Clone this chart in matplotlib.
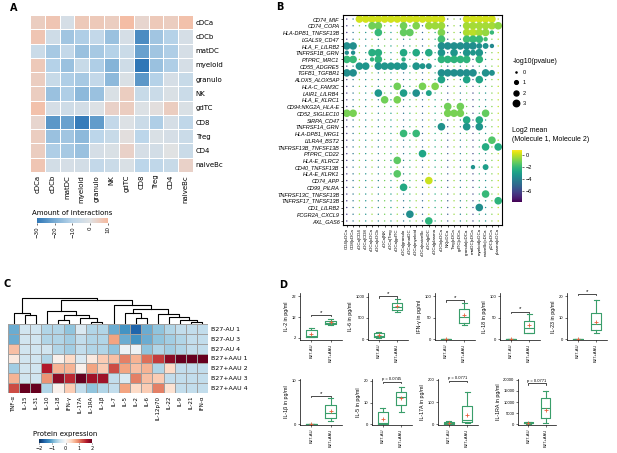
import numpy as np
import matplotlib
matplotlib.use('Agg')
import matplotlib.pyplot as plt
from matplotlib.colors import LinearSegmentedColormap

FIG_W = 617
FIG_H = 453
GREEN = '#3a9e6b'
SANS = 'Liberation Sans'

# ---------------- panel A: interaction counts ----------------
A_CELLS = ['cDCa', 'cDCb', 'matDC', 'myeloid', 'granulo', 'NK', 'gdTC',
           'CD8', 'Treg', 'CD4', 'naiveBc']
A_INTERACTIONS = [
    [5, 7, -3, 6, 6, 5, 9, 3, 6, 5, 8],
    [7, -5, -14, -12, -8, -15, -3, -26, -14, -11, -3],
    [-6, -13, -8, -15, -13, -11, -6, -22, -14, -12, -3],
    [6, -11, -15, -7, -12, -18, -5, -30, -15, -12, -3],
    [5, -7, -12, -13, -8, -17, -2, -24, -11, -3, -7],
    [5, -15, -12, -17, -15, -2, 5, -7, -6, -2, -6],
    [8, -3, -5, -4, -1, 4, 5, -1, 1, 5, -2],
    [3, -24, -22, -29, -23, -8, -1, -6, -12, -3, -9],
    [5, -15, -14, -17, -10, -7, 1, -10, -2, -3, -6],
    [5, -12, -13, -15, -3, -2, 4, -3, -4, 0, -6],
    [7, -4, -3, -4, -8, -6, -2, -10, -9, -7, 4],
]
A_TICKS = [-30, -20, -10, 0, 10]

# ---------------- panel B: ligand-receptor dot plot ----------------
B_PAIRS = ['CD74_MIF', 'CD74_COPA', 'HLA-DPB1_TNFSF13B', 'LGALS9_CD47',
           'HLA_F_LILRB2', 'TNFRSF1B_GRN', 'PTPRC_MRC1', 'CD55_ADGRE5',
           'TGFB1_TGFBR1', 'ALOX5_ALOX5AP', 'HLA-C_FAM3C', 'LAIR1_LILRB4',
           'HLA_E_KLRC1', 'CD94:NKG2A_HLA-E', 'CD52_SIGLEC10', 'SIRPA_CD47',
           'TNFRSF1A_GRN', 'HLA-DPB1_NRG1', 'LILRA4_BST2',
           'TNFRSF13B_TNFSF13B', 'PTPRC_CD22', 'HLA-E_KLRC2',
           'CD40_TNFSF13B', 'HLA-E_KLRK1', 'CD74_APP', 'CD99_PILRA',
           'TNFRSF13C_TNFSF13B', 'TNFRSF17_TNFSF13B', 'CD1_LILRB2',
           'FCGR2A_CXCL9', 'AXL_GAS6']
B_COLUMNS = ['CD4|cDCa', 'CD8|cDCa', 'cDCa|CD4', 'cDCa|CD8', 'cDCa|cDCa',
             'cDCa|cDCb', 'cDCa|NK', 'cDCa|Treg', 'cDCa|gdTC', 'cDCa|granulo',
             'cDCa|matDC', 'cDCa|myeloid', 'cDCa|naiveBc', 'cDCa|pDC',
             'cDCa|plasma', 'cDCb|cDCa', 'NK|cDCa', 'Treg|cDCa', 'gdTC|cDCa',
             'granulo|cDCa', 'matDC|cDCa', 'myeloid|cDCa', 'naiveBc|cDCa',
             'pDC|cDCa', 'plasma|cDCa']
# mean of the non significant pairs, per column
B_BG_MEAN = [-6.5, -4.5, -0.5, -3.5, -0.5, -4.0, -1.0, -3.0, -0.5, -4.5, -2.0,
             -0.5, -5.0, 0.0, -2.5, -1.0, -5.5, -0.5, -4.0, -1.0, -6.0, -2.0,
             -3.5, -0.8, 0.0]
# significant pairs per row: (column, -log10 p level, log2 mean)
B_SIGNIFICANT = [
    [(c, 3, 0.3) for c in list(range(2, 16)) + list(range(19, 24))],
    [(4, 3, -1.0), (5, 3, -1.0), (9, 3, -1.0), (11, 3, -0.8), (13, 3, -0.4),
     (14, 3, -0.4), (15, 3, -0.4), (19, 3, -0.3), (20, 3, -0.3), (21, 3, -0.3),
     (22, 3, -0.3), (23, 3, -0.3), (24, 3, -0.6)],
    [(5, 3, -2.0), (9, 3, -1.2), (10, 3, -1.2), (15, 3, -0.8), (19, 3, -0.2),
     (20, 3, 0.0), (21, 3, -0.3), (22, 3, -0.5), (23, 1, -2.0)],
    [(15, 3, -1.8), (19, 3, -1.8), (20, 3, -2.0), (21, 3, -2.0), (22, 1, -1.8)],
    [(0, 3, -3.6), (1, 3, -3.6), (15, 3, -3.6), (16, 3, -3.6), (17, 3, -3.6),
     (18, 3, -3.6), (19, 3, -3.6), (20, 3, -3.6), (21, 2, -3.6), (22, 2, -3.4),
     (23, 1, -3.8)],
    [(0, 1, -3.6), (1, 1, -3.6), (4, 3, -2.4), (5, 3, -2.4), (9, 3, -2.6),
     (11, 3, -2.6), (13, 3, -2.6), (15, 3, -3.3), (17, 3, -3.3), (19, 3, -3.3),
     (20, 2, -3.3), (21, 3, -3.3)],
    [(0, 3, -2.0), (1, 3, -2.0), (4, 1, -2.2), (5, 3, -2.2), (9, 1, -2.4),
     (15, 3, -2.2), (16, 3, -2.2), (17, 3, -2.2), (18, 3, -2.2), (19, 3, -2.2),
     (21, 3, -2.2)],
    [(2, 3, -3.3), (3, 3, -3.3), (5, 3, -3.3), (6, 3, -3.3), (7, 3, -3.3),
     (8, 3, -3.3), (9, 3, -3.3), (11, 3, -3.3), (12, 2, -3.3), (13, 2, -3.5)],
    [(0, 3, -3.6), (1, 3, -3.6), (15, 3, -3.6), (16, 3, -3.6), (17, 3, -3.6),
     (18, 3, -3.6), (19, 3, -3.6), (20, 3, -3.6), (22, 3, -3.5), (23, 2, -3.5)],
    [(15, 3, -2.8), (19, 3, -2.8), (21, 3, -2.8)],
    [(8, 3, -1.0), (12, 3, -0.9), (14, 3, -0.8)],
    [(5, 3, -3.2), (9, 3, -3.0), (11, 3, -3.5), (13, 2, -2.8)],
    [(6, 3, -1.0), (8, 3, -0.9)],
    [(16, 3, -1.0), (18, 3, -1.0)],
    [(0, 3, -0.9), (1, 3, -0.9), (16, 3, -0.9), (17, 3, -0.9), (18, 3, -0.9),
     (22, 3, -1.2)],
    [(19, 3, -2.6), (21, 3, -2.6)],
    [(15, 3, -3.5), (19, 3, -3.3), (21, 3, -3.3)],
    [(9, 3, -2.0), (11, 3, -2.0)],
    [(23, 3, -1.5)],
    [(22, 3, -2.5), (24, 3, -2.5)],
    [(12, 3, -2.7)],
    [(8, 3, -1.3)],
    [(20, 1, -3.4), (22, 2, -3.0)],
    [(8, 3, -1.4)],
    [(13, 3, 0.2)],
    [(9, 3, -2.6)],
    [(22, 3, -2.0)],
    [(24, 3, -2.2)],
    [(21, 3, -3.6)],
    [(10, 3, -3.6)],
    [(13, 3, -2.2)],
]
B_LEVELS = [0, 1, 2, 3]
B_CBAR_TICKS = [0, -2, -4, -6]

# ---------------- panel C: cytokine heatmap ----------------
C_CYTOKINES = ['TNF-α', 'IL-15', 'IL-31', 'IL-10', 'IL-18', 'IFN-γ', 'IL-17A',
               'IL-1RA', 'IL-1β', 'IL-7', 'IL-5', 'IL-2', 'IL-6', 'IL-12p70',
               'IL-22', 'IL-9', 'IL-21', 'IFN-α']
C_SAMPLES = ['B27-AU 1', 'B27-AU 3', 'B27-AU 4', 'B27+AAU 1', 'B27+AAU 2',
             'B27+AAU 3', 'B27+AAU 4']
C_EXPRESSION = [
    [-1.0, -0.4, -0.4, -0.6, -0.6, -0.8, -0.3, -0.6, -0.6, -1.0, -1.2, -1.6, -1.0, -0.8, -0.6, -0.5, -0.5, -0.5],
    [-1.0, -0.4, -0.4, -0.6, -0.6, -0.7, -0.5, -0.6, -0.6, 0.8, -1.0, -1.2, -1.0, -0.8, -0.7, -0.6, -0.5, -0.5],
    [0.6, -0.4, -0.4, -0.4, -0.6, -0.7, -0.5, -0.6, -0.6, -0.8, -0.1, -0.1, -0.8, -0.6, -0.7, -0.6, -0.5, -0.5],
    [0.2, -0.4, -0.4, -0.6, 0.1, 0.4, -0.3, 0.2, 0.5, 0.6, 1.0, 0.7, 1.1, 1.4, 1.8, 2.0, 2.0, 2.0],
    [-0.7, -0.4, -0.4, 1.6, 0.7, 0.7, 0.1, 0.8, 0.5, 1.3, 0.8, 0.6, 0.7, -0.6, 0.4, -0.5, -0.5, -0.5],
    [0.7, -0.4, -0.4, 0.9, 1.8, 1.5, 2.0, 1.7, 1.7, -0.5, -0.3, 1.0, 0.6, 0.5, -0.5, -0.5, -0.5, -0.5],
    [1.3, 2.0, 2.0, -0.6, 0.1, 0.5, -0.5, -0.8, -0.6, -0.5, 0.8, 0.4, 0.5, 1.0, 0.3, -0.5, -0.5, -0.5],
]
# column clustering: (left, right, height)
C_TREE = (
    ('TNF-α', ('IL-15', 'IL-31', 0.33), 0.40),
    (('IL-10', (('IL-18', 'IFN-γ', 0.16),
                ('IL-17A', ('IL-1RA', 'IL-1β', 0.07), 0.24), 0.33), 0.50),
     ('IL-7', (('IL-5', ('IL-2', 'IL-6', 0.24), 0.40),
               ('IL-12p70', ('IL-22', ('IL-9', ('IL-21', 'IFN-α', 0.08), 0.16),
                             0.26), 0.36), 0.57), 0.73), 0.90),
    1.0)

# ---------------- panel D: boxplots ----------------
D_GROUPS = ['B27-AU', 'B27+AAU']
D_NAMES = ['IL-2', 'IL-6', 'IFN-γ', 'IL-18', 'IL-23',
           'IL-1β', 'IL-5', 'IL-17A', 'IL-1RA']
# whislo, q1, median, q3, whishi, mean
D_AU = [[2.5, 2.6, 3.0, 5.8, 6.8, 4.0],
        [23, 47, 85, 141, 180, 90],
        [0, 0, 0, 0.3, 0.6, 0.1],
        [0, 0, 0, 0.3, 0.6, 0.1],
        [0, 0, 0, 0.05, 0.1, 0.02],
        [0, 0, 0, 0.03, 0.05, 0.01],
        [0, 0.1, 0.5, 5.5, 7.5, 2.5],
        [0, 1, 5, 10, 13, 6],
        [300, 500, 700, 900, 1000, 700]]
D_AAU = [[8.2, 8.5, 9.3, 10.2, 11.0, 9.5],
         [650, 688, 766, 860, 940, 780],
         [33, 37, 52, 69, 83, 55],
         [14, 15, 25, 43, 58, 32],
         [2.9, 4.4, 6.9, 12.4, 18.2, 8.0],
         [0.6, 1.5, 2.6, 4.3, 5.9, 3.0],
         [5.8, 9.0, 12.8, 15.0, 17.0, 12.0],
         [4, 9, 19, 84, 147, 40],
         [600, 2700, 7200, 11700, 15000, 6500]]
D_PVALUE = ['*', '*', '*', '*', '*', '*', 'p = 0.0745', 'p = 0.0771', 'p = 0.0771']
D_BRACKET = [13, 1010, 90, 64, 21, 6.5, 19.5, 195, 18500]
D_YTICKS = [[2, 12, 22], [0, 500, 1000], [0, 50, 100], [0, 50, 100], [0, 10, 20],
            [0, 10], [0, 10, 20], [0, 100, 200], [0, 5000, 10000, 15000, 20000]]
D_YLIM = [(1, 23.5), (-20, 1090), (-2, 107), (-2, 107), (-0.4, 21.5),
          (-0.2, 10.3), (-0.3, 20.9), (-3, 204), (-300, 20400)]


def add_px_axes(fig, left, top, width, height):
    return fig.add_axes([left / FIG_W, 1 - (top + height) / FIG_H,
                         width / FIG_W, height / FIG_H])


def plot_panel_a(fig):
    cmap = LinearSegmentedColormap.from_list(
        'interactions', ['#2f77b7', '#78acd4', '#bcd6ea', '#e0e2e4', '#f6b99e'])
    ax = add_px_axes(fig, 30, 15, 163, 157)
    mesh = ax.pcolormesh(np.array(A_INTERACTIONS), cmap=cmap, vmin=-30, vmax=10,
                         edgecolors='white', linewidth=0.5)
    n = len(A_CELLS)
    ax.set_xlim(0, n)
    ax.set_ylim(n, 0)
    ticks = np.arange(n) + 0.5
    ax.set_xticks(ticks)
    ax.set_xticklabels(A_CELLS, rotation=90, fontsize=5)
    ax.set_yticks(ticks)
    ax.set_yticklabels(A_CELLS, fontsize=5)
    ax.yaxis.tick_right()
    ax.tick_params(length=0, pad=2)
    for s in ax.spines.values():
        s.set_visible(False)

    cax = add_px_axes(fig, 37, 218, 71, 5)
    cb = fig.colorbar(mesh, cax=cax, orientation='horizontal')
    cb.set_ticks(A_TICKS)
    cb.ax.tick_params(labelsize=4, length=1.5, width=0.4, pad=1, labelrotation=90)
    cb.outline.set_visible(False)
    cax.set_title('Amount of interactions', fontsize=5, pad=2)


def plot_panel_b(fig):
    sizes = {0: 1.0, 1: 10, 2: 18, 3: 30}
    vmin, vmax = -7.9, 0.9
    ax = add_px_axes(fig, 343, 15, 159, 210)
    xs, ys, ss, cs = [], [], [], []
    for r in range(len(B_PAIRS)):
        sig = {c: (lvl, m) for c, lvl, m in B_SIGNIFICANT[r]}
        for c in range(len(B_COLUMNS)):
            lvl, m = sig.get(c, (0, B_BG_MEAN[c]))
            xs.append(c)
            ys.append(r)
            ss.append(sizes[lvl])
            cs.append(m)
    sc = ax.scatter(xs, ys, s=ss, c=cs, cmap='viridis', vmin=vmin, vmax=vmax,
                    linewidths=0)
    ax.set_xlim(-0.6, len(B_COLUMNS) - 0.4)
    ax.set_ylim(len(B_PAIRS) - 0.4, -0.6)
    ax.set_yticks(range(len(B_PAIRS)))
    ax.set_yticklabels(B_PAIRS, fontsize=4, style='italic', family=SANS)
    ax.set_xticks(range(len(B_COLUMNS)))
    ax.set_xticklabels(B_COLUMNS, rotation=90, fontsize=3.2, family=SANS)
    ax.tick_params(length=1.5, width=0.5, pad=1)
    for s in ax.spines.values():
        s.set_linewidth(0.8)

    handles = [plt.Line2D([], [], ls='', marker='o', color='black',
                          markersize=np.sqrt(sizes[l]) * 0.85) for l in B_LEVELS]
    fig.legend(handles, [str(l) for l in B_LEVELS], title='-log10(pvalue)',
               loc='upper left', bbox_to_anchor=(509 / FIG_W, 1 - 54 / FIG_H),
               frameon=False, prop={'family': SANS, 'size': 4},
               title_fontproperties={'family': SANS, 'size': 5},
               labelspacing=0.95, handletextpad=0.6, handlelength=1.2,
               alignment='left', borderpad=0.2)

    fig.text(512 / FIG_W, 1 - 127 / FIG_H, 'Log2 mean\n(Molecule 1, Molecule 2)',
             fontsize=5, family=SANS, va='top', linespacing=1.4)
    cax = add_px_axes(fig, 512, 150, 10, 52)
    cb = fig.colorbar(sc, cax=cax)
    cb.set_ticks(B_CBAR_TICKS)
    cb.ax.tick_params(labelsize=4, length=1.5, width=0.4, pad=1)
    cb.outline.set_visible(False)
    for t in cb.ax.get_yticklabels():
        t.set_family(SANS)


def draw_tree(ax, node):
    if isinstance(node, str):
        return C_CYTOKINES.index(node) + 0.5, 0.0
    left, right, h = node
    xl, hl = draw_tree(ax, left)
    xr, hr = draw_tree(ax, right)
    ax.plot([xl, xl, xr, xr], [hl, h, h, hr], color='black', lw=0.8)
    return (xl + xr) / 2, h


def plot_panel_c(fig):
    ax = add_px_axes(fig, 8, 324, 200, 69)
    mesh = ax.pcolormesh(np.array(C_EXPRESSION), cmap='RdBu_r', vmin=-2, vmax=2,
                         edgecolors='#a0a0a0', linewidth=0.6)
    nc, nr = len(C_CYTOKINES), len(C_SAMPLES)
    ax.set_xlim(0, nc)
    ax.set_ylim(nr, 0)
    ax.set_xticks(np.arange(nc) + 0.5)
    ax.set_xticklabels(C_CYTOKINES, rotation=90, fontsize=4)
    ax.set_yticks(np.arange(nr) + 0.5)
    ax.set_yticklabels(C_SAMPLES, fontsize=4.5)
    ax.yaxis.tick_right()
    ax.tick_params(length=0, pad=2)
    for s in ax.spines.values():
        s.set_visible(False)

    dax = add_px_axes(fig, 8, 297, 200, 27)
    draw_tree(dax, C_TREE)
    dax.set_xlim(0, nc)
    dax.set_ylim(0, 1.02)
    dax.axis('off')

    cax = add_px_axes(fig, 39, 439, 53, 4)
    cb = fig.colorbar(mesh, cax=cax, orientation='horizontal')
    cb.set_ticks([-2, -1, 0, 1, 2])
    cb.ax.tick_params(labelsize=3.5, length=1, width=0.4, pad=1)
    cb.outline.set_visible(False)
    cax.set_title('Protein expression', fontsize=5, pad=2)


def plot_panel_d(fig):
    boxes = [(300, 293, 42, 47), (368, 293, 40, 47), (435, 293, 40, 47),
             (500, 293, 40, 47), (567, 293, 40, 47),
             (300, 379, 42, 46), (372, 379, 40, 46), (438, 379, 40, 46),
             (518, 379, 38, 46)]
    for i, name in enumerate(D_NAMES):
        ax = add_px_axes(fig, *boxes[i])
        stats = []
        for vals in (D_AU[i], D_AAU[i]):
            stats.append(dict(whislo=vals[0], q1=vals[1], med=vals[2], q3=vals[3],
                              whishi=vals[4], mean=vals[5], fliers=[]))
        line = dict(color=GREEN, lw=0.8)
        ax.bxp(stats, positions=[1, 2], widths=0.55, showmeans=True,
               boxprops=line, whiskerprops=line, capprops=line,
               medianprops=line,
               meanprops=dict(marker='+', markeredgecolor='#e8603c',
                              markersize=2.5, markeredgewidth=0.6))
        ax.set_xlim(0.4, 2.6)
        ax.set_ylim(*D_YLIM[i])
        ax.set_yticks(D_YTICKS[i])
        ax.set_xticks([1, 2])
        ax.set_xticklabels(D_GROUPS, rotation=90, fontsize=3.3, family=SANS)
        for t in ax.get_yticklabels():
            t.set_family(SANS)
        ax.tick_params(labelsize=3, length=1.5, width=0.4, pad=1)
        ax.set_ylabel(name + ' in pg/ml', fontsize=3.8, family=SANS, labelpad=2)
        for side in ('top', 'right'):
            ax.spines[side].set_visible(False)
        for side in ('left', 'bottom'):
            ax.spines[side].set_linewidth(0.5)

        y = D_BRACKET[i]
        d = (D_YLIM[i][1] - D_YLIM[i][0]) * 0.03
        ax.plot([1, 1, 2, 2], [y - d, y, y, y - d], color='black', lw=0.5,
                clip_on=False)
        is_star = D_PVALUE[i] == '*'
        ax.text(1.5, y + (0 if is_star else d * 0.5), D_PVALUE[i], ha='center',
                va='bottom', fontsize=4.5 if is_star else 3, family=SANS,
                clip_on=False)


def main():
    fig = plt.figure(figsize=(FIG_W / 100, FIG_H / 100), dpi=100)
    plot_panel_a(fig)
    plot_panel_b(fig)
    plot_panel_c(fig)
    plot_panel_d(fig)

    for label, x, y in [('A', 10, 8), ('B', 276, 7), ('C', 3, 284), ('D', 279, 285)]:
        fig.text(x / FIG_W, 1 - y / FIG_H, label, fontsize=7, fontweight='bold',
                 va='center')

    fig.savefig('out.png', dpi=100)


if __name__ == '__main__':
    main()
